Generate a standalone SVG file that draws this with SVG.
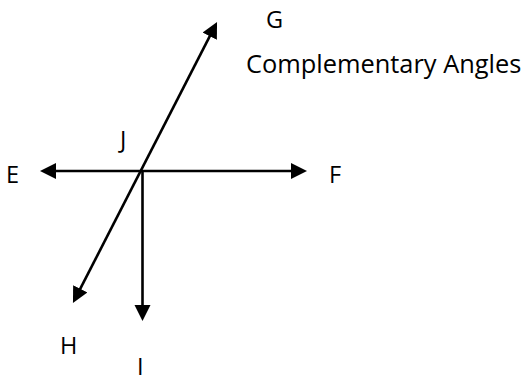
<svg xmlns="http://www.w3.org/2000/svg" width="531" height="382" viewBox="0 0 531 382">
<style>
.lbl{font-family:"Open Sans","Liberation Sans",sans-serif;font-size:23.5px;fill:#000}
.title{font-family:"Open Sans","Liberation Sans",sans-serif;font-size:25.4px;fill:#000}
.ray{stroke:#000;stroke-width:2.6;fill:none}
</style>
<defs>
<marker id="ah" viewBox="0 0 17 17" markerWidth="17" markerHeight="17" refX="10" refY="8.5" markerUnits="userSpaceOnUse" orient="auto-start-reverse">
<path d="M0,0.5 L16,8.5 L0,16.5 Z" fill="#000"/>
</marker>
</defs>
<rect width="531" height="382" fill="#fff"/>
<g id="connectors">
<line class="ray" x1="46" y1="171" x2="301" y2="171" marker-start="url(#ah)" marker-end="url(#ah)"/>
<line class="ray" x1="75.7" y1="297.7" x2="214.3" y2="27.3" marker-start="url(#ah)" marker-end="url(#ah)"/>
<line class="ray" x1="142.5" y1="171" x2="142.5" y2="315" marker-end="url(#ah)"/>
</g>
<g id="node-G"><text class="lbl" x="266" y="28">G</text></g>
<g id="node-title"><text class="title" x="246" y="73">Complementary Angles</text></g>
<g id="node-J"><text class="lbl" x="120" y="148">J</text></g>
<g id="node-E"><text class="lbl" x="6" y="183">E</text></g>
<g id="node-F"><text class="lbl" x="329" y="183">F</text></g>
<g id="node-H"><text class="lbl" x="60" y="354">H</text></g>
<g id="node-I"><text class="lbl" x="137" y="375">I</text></g>
</svg>
